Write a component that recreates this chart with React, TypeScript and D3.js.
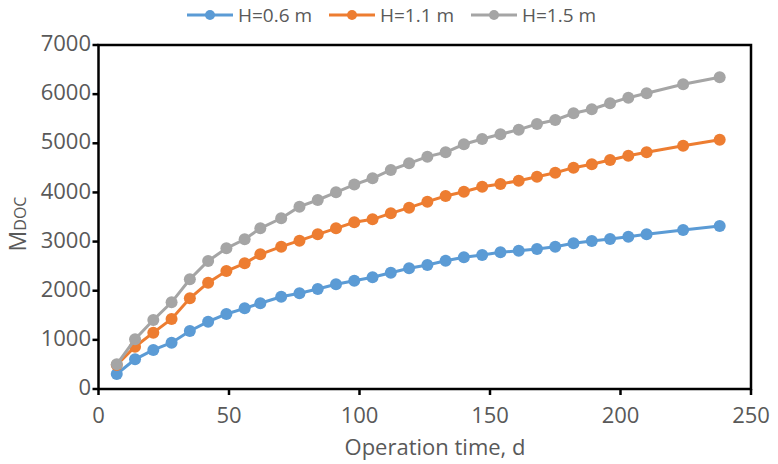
import React from "react";
import * as d3 from "d3";

const days = [7, 14, 21, 28, 35, 42, 49, 56, 62, 70, 77, 84, 91, 98, 105, 112, 119, 126, 133, 140, 147, 154, 161, 168, 175, 182, 189, 196, 203, 210, 224, 238];
const h06 = [305, 604, 794, 942, 1180, 1370, 1526, 1642, 1744, 1878, 1947, 2035, 2130, 2204, 2273, 2367, 2456, 2523, 2611, 2680, 2727, 2782, 2814, 2849, 2896, 2965, 3012, 3053, 3099, 3148, 3236, 3315];
const h11 = [488, 861, 1146, 1425, 1845, 2164, 2401, 2557, 2741, 2896, 3018, 3148, 3270, 3392, 3453, 3575, 3690, 3812, 3928, 4015, 4117, 4172, 4239, 4320, 4402, 4504, 4572, 4660, 4748, 4817, 4951, 5070];
const h15 = [502, 1011, 1404, 1764, 2232, 2605, 2863, 3046, 3270, 3474, 3710, 3846, 4003, 4160, 4288, 4457, 4593, 4728, 4817, 4980, 5088, 5183, 5277, 5393, 5474, 5610, 5692, 5814, 5928, 6017, 6200, 6345];

const seriesNames = ["H=0.6 m", "H=1.1 m", "H=1.5 m"];
const seriesColors = ["#5B9BD5", "#ED7D31", "#A5A5A5"];
const seriesValues = [h06, h11, h15];

const xTicks = [0, 50, 100, 150, 200, 250];
const yTicks = [0, 1000, 2000, 3000, 4000, 5000, 6000, 7000];

const W = 778;
const H = 464;
const FONT = "'Open Sans', 'Noto Sans', sans-serif";
const TXT = "#595959";

export default function App() {
  const x = d3.scaleLinear().domain([0, 250]).range([98.5, 751]);
  const y = d3.scaleLinear().domain([0, 7000]).range([389, 45]);
  const line = d3
    .line<[number, number]>()
    .x((d) => x(d[0]))
    .y((d) => y(d[1]));

  const legendX = [187, 329, 471];

  return (
    <svg
      width={W}
      height={H}
      style={{ position: "absolute", left: 0, top: 0, background: "#fff" }}
      fontFamily={FONT}
    >
      {/* series */}
      {seriesValues.map((vals, si) => {
        const pts: [number, number][] = days.map((d, i) => [d, vals[i]]);
        return (
          <g key={si}>
            <path d={line(pts) || ""} fill="none" stroke={seriesColors[si]} strokeWidth={3} />
            {pts.map((p, i) => (
              <circle key={i} cx={x(p[0])} cy={y(p[1])} r={6} fill={seriesColors[si]} />
            ))}
          </g>
        );
      })}

      {/* frame */}
      <rect x={x(0)} y={y(7000)} width={x(250) - x(0)} height={y(0) - y(7000)} fill="none" stroke="#000" strokeWidth={2.5} />

      {/* y ticks */}
      {yTicks.map((t) => (
        <g key={t}>
          <line x1={x(0) - 6} x2={x(0)} y1={y(t)} y2={y(t)} stroke="#000" strokeWidth={2.5} />
          <text x={91} y={y(t) - 1.5} dy="0.35em" textAnchor="end" fontSize={22} fill={TXT}>
            {t}
          </text>
        </g>
      ))}

      {/* x ticks */}
      {xTicks.map((t) => (
        <g key={t}>
          <line x1={x(t)} x2={x(t)} y1={y(0)} y2={y(0) + 6} stroke="#000" strokeWidth={2.5} />
          <text x={x(t)} y={423} textAnchor="middle" fontSize={22} fill={TXT}>
            {t}
          </text>
        </g>
      ))}

      {/* axis titles */}
      <text x={435} y={455} textAnchor="middle" fontSize={22} fill={TXT}>
        Operation time, d
      </text>
      <text transform="translate(26,224) rotate(-90)" textAnchor="middle" fill={TXT}>
        <tspan fontSize={23}>M</tspan>
        <tspan fontSize={16}>DOC</tspan>
      </text>

      {/* legend */}
      {seriesNames.map((n, i) => (
        <g key={n}>
          <line x1={legendX[i]} x2={legendX[i] + 46} y1={15} y2={15} stroke={seriesColors[i]} strokeWidth={3} />
          <circle cx={legendX[i] + 23} cy={15} r={5} fill={seriesColors[i]} />
          <text x={legendX[i] + 51} y={15} dy="0.35em" fontSize={19} fill={TXT}>
            {n}
          </text>
        </g>
      ))}
    </svg>
  );
}
